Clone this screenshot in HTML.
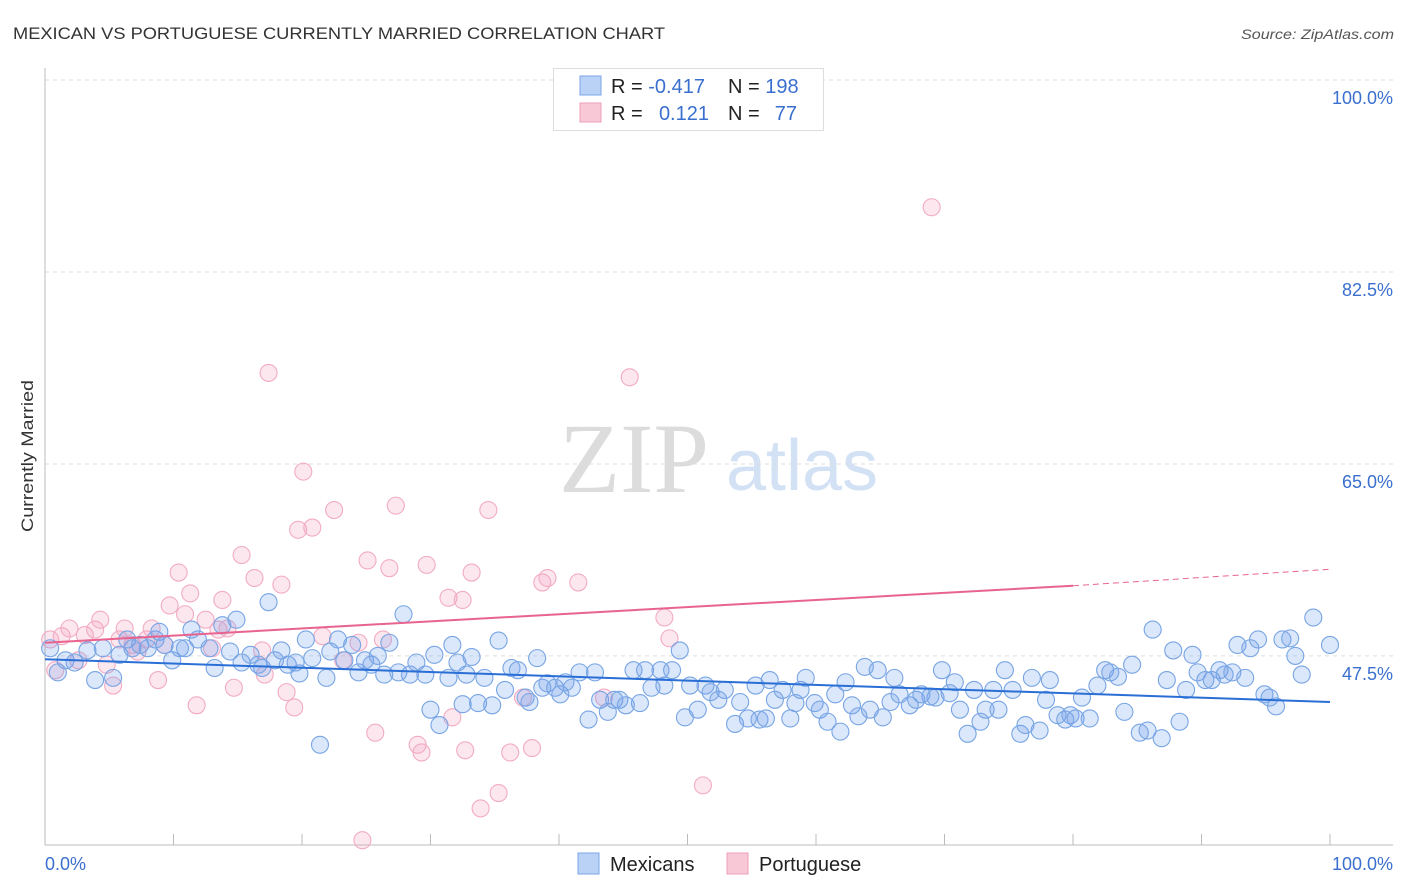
<!DOCTYPE html>
<html><head><meta charset="utf-8"><style>
body{margin:0;background:#fff;font-family:"Liberation Sans",sans-serif;}
svg{display:block}
</style></head><body>
<svg id="chart" width="1406" height="892" viewBox="0 0 1406 892">
<text x="13" y="39" font-size="17" fill="#333" textLength="652" lengthAdjust="spacingAndGlyphs">MEXICAN VS PORTUGUESE CURRENTLY MARRIED CORRELATION CHART</text>
<text x="1241" y="39" font-size="14" fill="#555" font-style="italic" textLength="153" lengthAdjust="spacingAndGlyphs">Source: ZipAtlas.com</text>
<text transform="translate(33,456) rotate(-90)" font-size="17" fill="#333" text-anchor="middle" textLength="152" lengthAdjust="spacingAndGlyphs">Currently Married</text>
<g>
<text x="634" y="492" font-size="100" font-family="Liberation Serif,serif" fill="#dcdcdc" text-anchor="middle">ZIP</text>
<text x="802" y="490" font-size="72" fill="#d3e1f5" text-anchor="middle">atlas</text>
</g>
<g id="grid"></g>
<g id="marks"></g>
<g>
<rect x="553.5" y="68.5" width="270" height="62" fill="#fff" stroke="#ddd"/>
<rect x="580" y="76" width="21" height="19" fill="#b9d2f5" stroke="#7aa5e6"/>
<rect x="580" y="103" width="21" height="19" fill="#f9c8d7" stroke="#ee9fb9"/>
<text x="611" y="93" font-size="20" fill="#222">R = <tspan fill="#3a6fcf">-0.417</tspan></text>
<text x="728" y="93" font-size="20" fill="#222">N = <tspan fill="#3a6fcf">198</tspan></text>
<text x="611" y="120" font-size="20" fill="#222">R = </text>
<text x="709" y="120" font-size="20" fill="#3a6fcf" text-anchor="end">0.121</text>
<text x="728" y="120" font-size="20" fill="#222">N = </text>
<text x="797" y="120" font-size="20" fill="#3a6fcf" text-anchor="end">77</text>
</g>
<g>
<rect x="578" y="853" width="21" height="21" fill="#b9d2f5" stroke="#7aa5e6"/>
<text x="610" y="871" font-size="20" fill="#222">Mexicans</text>
<rect x="727" y="853" width="21" height="21" fill="#f9c8d7" stroke="#ee9fb9"/>
<text x="759" y="871" font-size="20" fill="#222">Portuguese</text>
</g>
</svg>
<script>
const yTicks=[100,82.5,65,47.5];
const yTickLabels=["100.0%","82.5%","65.0%","47.5%"];
const xLabels=["0.0%","100.0%"];
const blueX=[0.4,1.0,1.6,2.3,3.3,3.9,4.5,5.3,5.8,6.4,6.8,7.4,8.0,8.6,8.9,9.3,9.9,10.5,10.9,11.4,11.9,12.8,13.2,13.8,14.4,14.9,15.3,16.0,16.6,16.9,17.4,17.9,18.4,18.9,19.5,19.8,20.3,20.8,21.4,21.9,22.2,22.8,23.3,23.9,24.4,24.9,25.4,25.9,26.4,26.8,27.5,27.9,28.4,28.9,29.6,30.0,30.3,30.7,31.4,31.7,32.1,32.5,32.8,33.2,33.7,34.2,34.8,35.3,35.8,36.3,36.8,37.4,37.7,38.3,38.7,39.1,39.7,40.1,40.5,41.0,41.6,42.3,42.8,43.2,43.8,44.3,44.7,45.2,45.8,46.3,46.7,47.2,47.9,48.2,48.8,49.4,49.8,50.2,50.8,51.4,51.8,52.4,52.9,53.7,54.1,54.7,55.3,55.6,56.1,56.4,56.8,57.4,58.0,58.4,58.8,59.2,59.9,60.3,60.9,61.5,61.9,62.3,62.8,63.3,63.8,64.2,64.8,65.2,65.8,66.1,66.5,67.3,67.8,68.2,68.9,69.3,69.8,70.4,70.8,71.2,71.8,72.3,72.8,73.2,73.8,74.2,74.7,75.3,75.9,76.3,76.8,77.4,77.9,78.2,78.8,79.4,79.8,80.2,80.7,81.3,81.9,82.5,82.9,83.5,84.0,84.6,85.2,85.8,86.2,86.9,87.3,87.8,88.3,88.8,89.3,89.7,90.3,90.8,91.4,91.8,92.4,92.8,93.4,93.8,94.4,94.9,95.3,95.8,96.3,96.9,97.3,97.8,98.7,100.0];
const blueY=[48.2,46.0,47.1,46.9,48.0,45.3,48.2,45.5,47.6,49.0,48.2,48.5,48.2,49.0,49.7,48.5,47.1,48.2,48.2,49.9,49.0,48.2,46.4,50.3,47.9,50.8,46.9,47.6,46.7,46.4,52.4,47.1,48.0,46.7,46.9,45.9,49.0,47.3,39.4,45.5,47.9,49.0,47.1,48.5,46.0,47.1,46.7,47.5,45.8,48.7,46.0,51.3,45.8,46.9,45.8,42.6,47.6,41.2,45.5,48.5,46.9,43.1,45.8,47.4,43.2,45.5,43.0,48.9,44.4,46.4,46.2,43.7,43.3,47.3,44.6,45.0,44.6,44.0,45.1,44.6,46.0,41.7,46.0,43.5,42.4,43.5,43.5,43.0,46.2,43.2,46.2,44.6,46.2,44.8,46.2,48.0,41.9,44.8,42.6,44.8,44.2,43.5,44.4,41.3,43.3,41.8,44.8,41.7,41.8,45.3,43.5,44.4,41.8,43.2,44.4,45.5,43.2,42.6,41.5,44.0,40.6,45.1,43.0,42.0,46.5,42.6,46.2,41.9,43.3,45.5,44.0,43.0,43.5,44.0,43.8,43.7,46.2,44.1,45.1,42.6,40.4,44.4,41.5,42.6,44.4,42.6,46.2,44.4,40.4,41.2,45.5,40.7,43.5,45.3,42.1,41.7,42.1,41.8,43.7,41.8,44.8,46.2,46.0,45.6,42.4,46.7,40.5,40.7,49.9,40.0,45.3,48.0,41.5,44.4,47.6,46.0,45.3,45.3,46.2,45.8,46.0,48.5,45.5,48.2,49.0,44.0,43.7,42.9,49.0,49.1,47.5,45.8,51.0,48.5];
const pinkX=[0.4,0.8,1.3,1.9,2.6,3.1,3.9,4.3,4.8,5.3,5.8,6.2,6.8,7.2,7.9,8.3,8.8,9.3,9.7,10.4,10.9,11.3,11.8,12.5,13.0,13.5,13.8,14.2,14.7,15.3,16.3,16.9,17.4,18.4,18.8,19.4,19.7,20.1,20.8,21.6,22.5,23.2,24.4,25.1,25.7,26.3,26.8,27.3,29.0,29.3,29.7,31.4,31.7,32.5,32.7,33.2,33.9,34.5,35.3,36.2,37.2,37.9,38.7,39.1,41.5,43.5,45.5,48.2,48.6,51.2,69.0,24.7,17.1];
const pinkY=[49.0,46.2,49.3,50.0,47.1,49.4,49.9,50.8,46.7,44.8,49.0,50.0,48.5,47.9,49.0,50.0,45.3,48.5,52.1,55.1,51.3,53.2,43.0,50.8,48.2,49.9,52.6,50.0,44.6,56.7,54.6,48.0,73.3,54.0,44.2,42.8,59.0,64.3,59.2,49.3,60.8,47.1,48.7,56.2,40.5,49.0,55.5,61.2,39.4,38.7,55.8,52.8,41.9,52.6,38.9,55.1,33.6,60.8,35.0,38.7,43.7,39.1,54.2,54.6,54.2,43.7,72.9,51.0,49.1,35.7,88.4,30.7,45.8];
const blueTrend=[47.2,43.3];
const pinkTrend=[48.7,53.9,55.4];
const pinkTrendEnd=80;

const NS="http://www.w3.org/2000/svg";
const X=v=>45+v*12.85;
const Y=v=>80+(100-v)*10.97;
function mk(tag,attrs,parent){const e=document.createElementNS(NS,tag);for(const k in attrs)e.setAttribute(k,attrs[k]);parent.appendChild(e);return e;}
const grid=document.getElementById('grid'),marks=document.getElementById('marks');
yTicks.forEach((t,i)=>{
  const l=mk('line',{x1:45,x2:1393,y1:Y(t),y2:Y(t),stroke:'#ddd','stroke-dasharray':'4,4'},grid);
  
  
  const tx=mk('text',{x:1393,y:Y(t)+24,'font-size':18,fill:'#3a6fcf','text-anchor':'end'},grid);
  tx.textContent=yTickLabels[i];
  
  
});
const ax=mk('line',{x1:45,x2:1393,y1:845,y2:845,stroke:'#bbb'},grid);


const ay=mk('line',{x1:45,x2:45,y1:68,y2:845,stroke:'#bbb'},grid);


for(let i=0;i<=10;i++){
  const t=mk('line',{x1:X(i*10),x2:X(i*10),y1:834,y2:845,stroke:'#bbb'},grid);
  
  
}
const xl0=mk('text',{x:45,y:870,'font-size':18,fill:'#3a6fcf'},grid);xl0.textContent=xLabels[0];


const xl1=mk('text',{x:1393,y:870,'font-size':18,fill:'#3a6fcf','text-anchor':'end'},grid);xl1.textContent=xLabels[1];


pinkX.forEach((x,i)=>{
  const c=mk('circle',{cx:X(x),cy:Y(pinkY[i]),r:8.5,fill:'rgba(242,160,190,0.25)',stroke:'#f2abc3','stroke-width':1.1},marks);
  
  
});
blueX.forEach((x,i)=>{
  const c=mk('circle',{cx:X(x),cy:Y(blueY[i]),r:8.5,fill:'rgba(110,160,235,0.25)',stroke:'#78a5e4','stroke-width':1.1},marks);
  
  
});
const bt=mk('line',{x1:X(0),y1:Y(blueTrend[0]),x2:X(100),y2:Y(blueTrend[1]),stroke:'#2a6fd6','stroke-width':2},marks);


const pt=mk('line',{x1:X(0),y1:Y(pinkTrend[0]),x2:X(pinkTrendEnd),y2:Y(pinkTrend[1]),stroke:'#e8648f','stroke-width':2},marks);


const pd=mk('line',{x1:X(pinkTrendEnd),y1:Y(pinkTrend[1]),x2:X(100),y2:Y(pinkTrend[2]),stroke:'#e8648f','stroke-width':1,'stroke-dasharray':'6,4'},marks);


</script>
</body></html>
